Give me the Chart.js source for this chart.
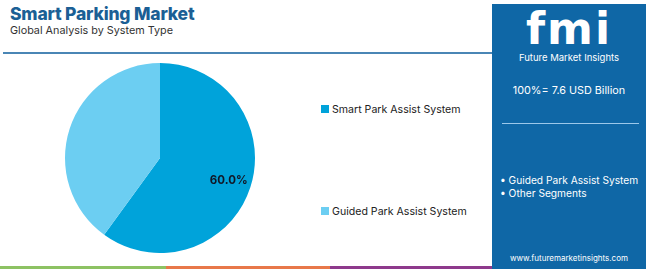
<!DOCTYPE html>
<html>
<head>
<meta charset="utf-8">
<script src="https://cdn.jsdelivr.net/npm/chart.js@4"></script>
<style>
  body { margin:0; width:650px; height:269px; background:#fff; font-family:Inter, "Open Sans", sans-serif; overflow:hidden; position:relative; }
  .title { position:absolute; left:10px; top:3px; font-size:17.5px; font-weight:800; color:#1b5f95; letter-spacing:-0.2px; white-space:nowrap; }
  .sub { position:absolute; left:10px; top:24px; font-size:10.8px; color:#333; white-space:nowrap; }
  .hline { position:absolute; left:3px; top:52px; width:489px; height:2px; background:#4a86b5; }
  #wrap { position:absolute; left:65px; top:63px; width:190px; height:190px; }
  .leg { position:absolute; left:321px; font-size:10.6px; color:#222; white-space:nowrap; }
  .leg span.sq { display:inline-block; width:8px; height:8px; margin-right:3px; vertical-align:0px; }
  .panel { position:absolute; left:492px; top:4px; width:154px; height:265px; background:#0f67a6; color:#fff; }
  .logo { position:absolute; left:0; width:154px; top:3px; text-align:center; font-family:"DejaVu Sans", sans-serif; font-weight:bold; font-size:44px; letter-spacing:2px; line-height:44px; }
  .fmi { position:absolute; left:0; width:154px; top:48px; text-align:center; font-size:9.5px; white-space:nowrap; }
  .tot { position:absolute; left:0; width:154px; top:80px; text-align:center; font-size:10.8px; white-space:nowrap; }
  .pline { position:absolute; left:10px; top:119px; width:137px; height:1px; background:#9cc8ea; }
  .bul { position:absolute; left:8px; font-size:10.2px; white-space:nowrap; }
  .web { position:absolute; left:0; width:154px; top:249px; text-align:center; font-size:8px; white-space:nowrap; }
  .stripe { position:absolute; top:266px; height:3px; }
</style>
</head>
<body>
<div class="title">Smart Parking Market</div>
<div class="sub">Global Analysis by System Type</div>
<div class="hline"></div>
<div id="wrap"><canvas id="grafico" width="190" height="190"></canvas></div>
<div id="legenda"></div>
<div class="panel">
  <div class="logo">fmi</div>
  <div class="fmi">Future Market Insights</div>
  <div class="tot">100%= 7.6 USD Billion</div>
  <div class="pline"></div>
  <div class="bul" style="top:170px">• Guided Park Assist System</div>
  <div class="bul" style="top:183px">• Other Segments</div>
  <div class="web">www.futuremarketinsights.com</div>
</div>
<div class="stripe" style="left:0;width:166px;background:#8dc263"></div>
<div class="stripe" style="left:166px;width:164px;background:#e8784a"></div>
<div class="stripe" style="left:330px;width:162px;background:#8e3a8c"></div>
<script>
var categorias = ['Smart Park Assist System', 'Guided Park Assist System'];
var valores = [60, 40];
var cores = ['#00a3da', '#6ccef2'];
var rotulos = ['60.0%', ''];
var legendaY = [103, 205];

var legenda = document.getElementById('legenda');
for (var i = 0; i < categorias.length; i++) {
    var d = document.createElement('div');
    d.className = 'leg';
    d.style.top = legendaY[i] + 'px';
    d.innerHTML = '<span class="sq" style="background:' + cores[i] + '"></span>' + categorias[i];
    legenda.appendChild(d);
}

// escreve a porcentagem dentro da fatia
var rotuloPlugin = {
    id: 'rotulo',
    afterDatasetsDraw: function (chart) {
        var ctx = chart.ctx;
        var meta = chart.getDatasetMeta(0);
        meta.data.forEach(function (arc, i) {
            if (!rotulos[i]) return;
            var meio = (arc.startAngle + arc.endAngle) / 2;
            var r = arc.outerRadius * 0.76;
            ctx.save();
            ctx.font = 'bold 11.5px Inter, sans-serif';
            ctx.fillStyle = '#111827';
            ctx.textAlign = 'center';
            ctx.textBaseline = 'middle';
            ctx.fillText(rotulos[i], arc.x + Math.cos(meio) * r, arc.y + Math.sin(meio) * r);
            ctx.restore();
        });
    }
};

var grafico = document.getElementById('grafico').getContext('2d');
var chart = new Chart(grafico, {
    type: 'pie',
    data: {
        labels: categorias,
        datasets: [{ data: valores, backgroundColor: cores, borderWidth: 0 }]
    },
    options: {
        responsive: false,
        animation: false,
        plugins: { legend: { display: false }, tooltip: { enabled: false } }
    },
    plugins: [rotuloPlugin]
});
</script>
</body>
</html>
